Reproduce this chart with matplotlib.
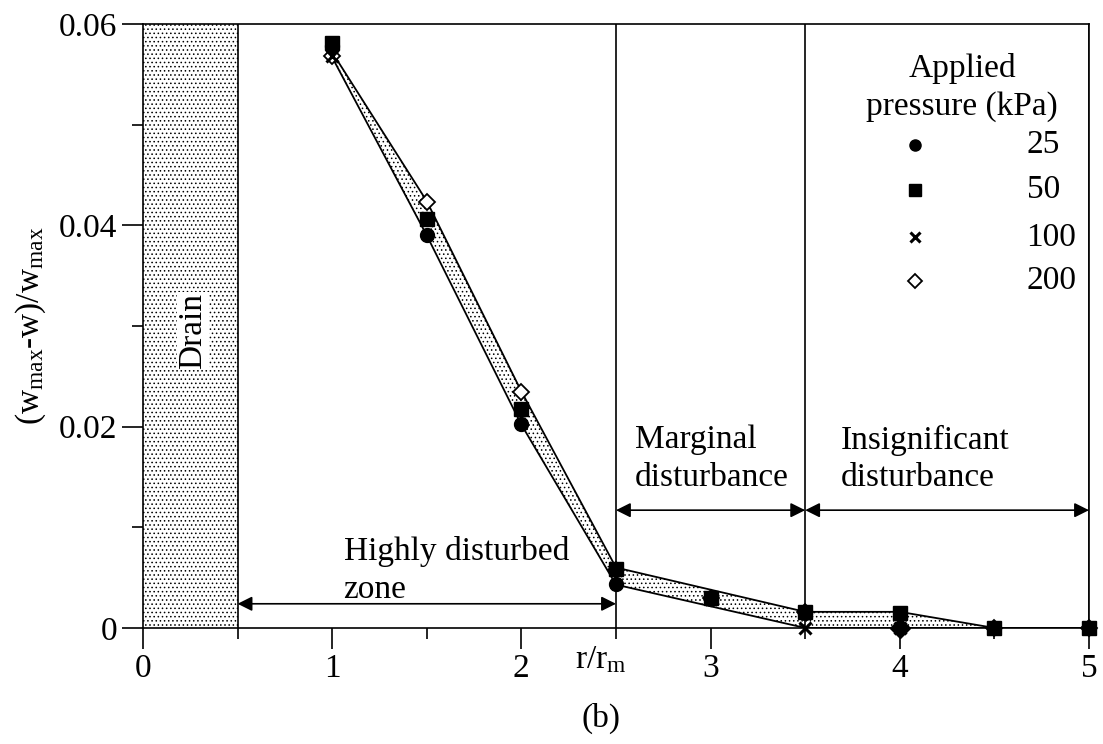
import matplotlib
matplotlib.use("Agg")
import matplotlib.pyplot as plt

plt.rcParams["font.family"] = ["Liberation Serif", "DejaVu Serif"]
plt.rcParams["mathtext.fontset"] = "custom"
plt.rcParams["mathtext.rm"] = "Liberation Serif"
plt.rcParams["mathtext.it"] = "Liberation Serif"
plt.rcParams["hatch.linewidth"] = 0.6

# ---- data ----
r = [1.0, 1.5, 2.0, 2.5, 3.0, 3.5, 4.0, 4.5, 5.0]
p25 = [0.0578, 0.0390, 0.0203, 0.0044, 0.0029, 0.0015, 0.0, 0.0, 0.0]
p50 = [0.0581, 0.0406, 0.0218, 0.0059, 0.0030, 0.0016, 0.0015, 0.0, 0.0]
p100 = [0.0568, 0.0405, 0.0218, 0.0058, 0.0029, 0.0, 0.0, 0.0, 0.0]
p200 = [0.0568, 0.0423, 0.0234, 0.0058, 0.0030, 0.0016, 0.0, 0.0, 0.0]

band_x = [1.0, 1.5, 2.0, 2.5, 3.5, 4.0, 4.5, 5.0]
band_upper = [0.0572, 0.0424, 0.0235, 0.0060, 0.0016, 0.0016, 0.0, 0.0]
band_lower = [0.0567, 0.0390, 0.0202, 0.0043, 0.0, 0.0, 0.0, 0.0]

zone_bounds = [0.5, 2.5, 3.5, 5.0]

fig = plt.figure(figsize=(11.03, 7.44), dpi=100)
ax = fig.add_axes([0.1296, 0.156, 0.8577, 0.8117])

# drain
ax.axvspan(0, 0.5, facecolor="white", edgecolor="black", hatch="....", lw=0)
ax.text(0.265, 0.0295, "Drain", rotation=90, ha="center", va="center", fontsize=24,
        bbox=dict(facecolor="white", edgecolor="none", pad=0.5))

# band
ax.fill_between(band_x, band_lower, band_upper, facecolor="white", edgecolor="black",
                hatch="....", lw=0)
ax.plot(band_x, band_upper, color="black", lw=1.3)
ax.plot(band_x, band_lower, color="black", lw=1.3)

for xb in zone_bounds:
    ax.axvline(xb, color="black", lw=1.2)

# open diamonds first, filled markers on top
ax.plot(r, p200, "D", mfc="white", mec="black", ms=8, mew=1.3, ls="none",
        clip_on=False, zorder=4)
ax.plot(r, p25, "o", color="black", ms=10, ls="none", clip_on=False, zorder=5)
ax.plot(r, p50, "s", color="black", ms=9.5, ls="none", clip_on=False, zorder=5)
ax.plot(r, p100, "x", color="black", ms=8, mew=2.2, ls="none", clip_on=False, zorder=7)
# at r=4 the diamond sits on top of the circle
ax.plot(r[6], p200[6], "D", color="black", ms=10, ls="none", clip_on=False, zorder=6)

# zone arrows
arrow = dict(arrowstyle="<|-|>", color="black", lw=1.2, mutation_scale=22,
             shrinkA=0, shrinkB=0)
ax.annotate("", xy=(0.5, 0.0024), xytext=(2.5, 0.0024), arrowprops=arrow)
ax.annotate("", xy=(2.5, 0.0117), xytext=(3.5, 0.0117), arrowprops=arrow)
ax.annotate("", xy=(3.5, 0.0117), xytext=(5.0, 0.0117), arrowprops=arrow)

ax.text(1.06, 0.0057, "Highly disturbed\nzone", fontsize=24, ha="left", va="center",
        linespacing=1.3)
ax.text(2.6, 0.0168, "Marginal\ndisturbance", fontsize=24, ha="left", va="center",
        linespacing=1.3)
ax.text(3.69, 0.0168, "Insignificant\ndisturbance", fontsize=24, ha="left", va="center",
        linespacing=1.3)

# legend drawn by hand to match layout
ax.text(4.33, 0.0537, "Applied\npressure (kPa)", fontsize=24, ha="center", va="center",
        linespacing=1.3)
leg_y = [0.0480, 0.0435, 0.0388, 0.0345]
leg_lab = ["25", "50", "100", "200"]
ax.plot(4.08, leg_y[0], "o", color="black", ms=8)
ax.plot(4.08, leg_y[1], "s", color="black", ms=8)
ax.plot(4.08, leg_y[2], "x", color="black", ms=7, mew=2.2)
ax.plot(4.08, leg_y[3], "D", mfc="white", mec="black", ms=7, mew=1.3)
for yy, lab in zip(leg_y, leg_lab):
    ax.text(4.67, yy, lab, fontsize=24, ha="left", va="center")

ax.set_xlim(0, 5)
ax.set_ylim(0, 0.06)
ax.set_xticks([0, 1, 2, 3, 4, 5])
ax.set_xticks([0.5, 1.5, 2.5, 3.5, 4.5], minor=True)
ax.set_yticks([0, 0.02, 0.04, 0.06])
ax.set_yticklabels(["0", "0.02", "0.04", "0.06"])
ax.set_yticks([0.01, 0.03, 0.05], minor=True)
ax.tick_params(which="major", direction="out", length=15, width=1.2, labelsize=24)
ax.tick_params(which="minor", direction="out", length=8, width=1.2)
for s in ax.spines.values():
    s.set_linewidth(1.2)

ax.set_ylabel(r"(w$_{\rm max}$-w)/w$_{\rm max}$", fontsize=24, labelpad=8)
fig.text(0.545, 0.113, r"r/r$_{\rm m}$", fontsize=24, ha="center", va="center")
fig.text(0.545, 0.035, "(b)", fontsize=24, ha="center", va="center")

fig.savefig("out.png", dpi=100)
